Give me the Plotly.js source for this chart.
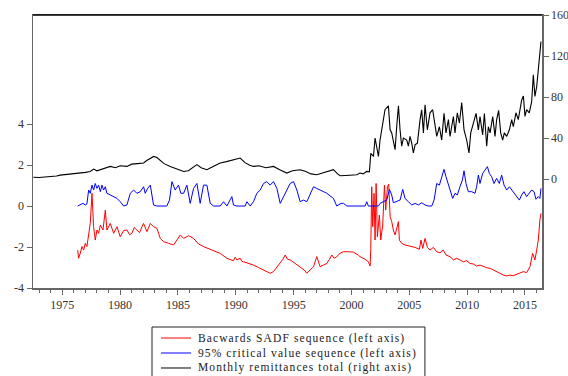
<!DOCTYPE html>
<html>
<head>
<meta charset="utf-8">
<script src="https://cdn.plot.ly/plotly-3.0.1.min.js"></script>
<style>
html,body{margin:0;padding:0;background:#fff;}
#chart{width:568px;height:376px;}
#chart .annotation-text{letter-spacing:1.1px;}
</style>
</head>
<body>
<div id="chart"></div>
<script>
// Monthly remittances total (right axis) — decimal years
const remitYear = [1972.5,1973.0,1973.5,1974.0,1974.5,1974.83,1975.5,1976.0,1976.5,1977.0,1977.42,1977.71,1978.0,1978.5,1979.0,1979.15,1979.6,1980.0,1980.59,1981.0,1981.5,1982.03,1982.3,1982.61,1982.9,1983.18,1983.5,1983.8,1984.33,1984.8,1985.0,1985.49,1985.9,1986.3,1986.64,1987.0,1987.5,1988.0,1988.65,1989.2,1989.8,1990.38,1990.8,1991.2,1991.53,1992.0,1992.6,1993.26,1993.8,1994.41,1994.9,1995.56,1996.0,1996.5,1997.0,1997.6,1998.0,1998.44,1998.8,1999.02,1999.5,2000.0,2000.46,2000.74,2001.0,2001.32,2001.55,2001.67,2001.90,2002.04,2002.18,2002.33,2002.47,2002.76,2002.90,2003.19,2003.34,2003.48,2003.62,2003.77,2003.91,2004.06,2004.20,2004.34,2004.49,2004.78,2004.92,2005.06,2005.21,2005.35,2005.50,2005.70,2005.93,2006.07,2006.22,2006.36,2006.56,2006.79,2007.02,2007.22,2007.37,2007.60,2007.80,2008.00,2008.17,2008.38,2008.52,2008.81,2008.95,2009.15,2009.33,2009.53,2009.73,2009.96,2010.16,2010.31,2010.54,2010.77,2010.97,2011.11,2011.34,2011.49,2011.69,2011.83,2011.98,2012.21,2012.41,2012.55,2012.72,2012.90,2013.07,2013.21,2013.42,2013.65,2013.85,2013.99,2014.22,2014.42,2014.71,2014.86,2015.00,2015.14,2015.37,2015.58,2015.72,2015.86,2016.01,2016.15,2016.29,2016.38];
const remitVal  = [1.8,1.5,2.0,2.2,3.0,3.8,4.5,5.0,5.5,6.5,7.4,9.7,8.0,10.0,11.5,12.3,11.0,13.0,12.3,14.5,15.0,15.6,18.0,20.5,22.0,21.0,18.0,15.0,12.3,10.0,9.0,7.4,8.0,11.0,14.0,11.0,9.1,12.0,15.6,17.0,19.0,20.5,16.0,13.5,12.3,13.0,11.0,12.3,9.0,5.8,8.0,9.1,7.5,5.0,4.2,6.0,7.4,9.1,5.0,3.2,3.5,4.0,4.2,5.8,5.0,7.4,7.0,25.0,22.0,40.0,32.0,22.0,38.0,58.0,67.6,71.5,48.0,45.0,35.0,28.6,51.0,71.5,48.0,32.0,40.0,38.0,32.0,41.6,35.0,25.4,33.5,35.0,58.0,67.6,45.0,72.5,48.0,64.6,67.6,51.0,41.6,51.0,38.0,64.0,45.0,58.0,41.6,61.0,45.0,64.6,54.6,74.7,48.0,38.0,25.4,45.0,54.6,64.0,48.0,61.0,43.0,64.0,32.0,51.0,45.0,61.0,41.6,58.0,67.0,45.0,38.0,45.0,41.6,48.0,58.0,51.0,64.6,58.0,77.0,81.0,61.0,67.6,64.6,75.7,101.7,80.6,90.0,106.6,129.0,134.0];

// 95% critical value sequence (left axis)
const cvYear = [1976.33,1976.56,1976.79,1976.99,1977.13,1977.28,1977.42,1977.57,1977.71,1977.85,1978.0,1978.14,1978.29,1978.43,1978.57,1978.72,1978.86,1979.15,1979.44,1979.73,1980.01,1980.3,1980.59,1980.88,1981.17,1981.45,1981.74,1982.03,1982.17,1982.38,1982.61,1982.89,1983.18,1984.04,1984.27,1984.48,1984.76,1985.05,1985.25,1985.49,1985.77,1986.06,1986.35,1986.64,1986.92,1987.21,1987.5,1987.79,1988.08,1988.65,1988.94,1989.23,1989.66,1989.8,1990.09,1990.81,1990.96,1991.24,1991.53,1991.82,1992.11,1992.4,1992.68,1992.97,1993.26,1993.55,1993.84,1994.12,1994.41,1994.7,1994.99,1995.28,1995.56,1995.85,1996.14,1996.43,1996.72,1997.0,1997.29,1997.87,1998.44,1998.73,1999.1,1999.31,1999.6,2000.75,2001.18,2001.32,2001.46,2002.33,2002.47,2002.76,2003.05,2003.28,2003.48,2003.62,2003.91,2004.2,2004.43,2004.63,2004.92,2005.21,2005.5,2005.78,2006.07,2006.36,2006.65,2006.94,2007.14,2007.37,2007.6,2007.8,2008.0,2008.17,2008.38,2008.58,2008.75,2008.95,2009.15,2009.38,2009.59,2009.73,2009.9,2010.1,2010.39,2010.68,2010.82,2010.97,2011.11,2011.34,2011.54,2011.75,2011.92,2012.12,2012.32,2012.55,2012.78,2012.98,2013.19,2013.42,2013.65,2013.85,2014.05,2014.28,2014.51,2014.71,2014.91,2015.14,2015.37,2015.58,2015.78,2015.95,2016.15,2016.29,2016.38];
const cvVal  = [0,0.05,0.13,0.05,0.1,0.78,0.62,1.02,0.78,1.1,0.86,1.02,0.7,1.02,0.78,0.94,0.62,0.54,0.46,0.37,0.21,0.0,0.05,0.62,0.78,0.62,0.7,0.94,0.62,0.86,1.02,0.05,0,0,0.29,1.19,0.78,1.02,0.62,0.62,1.02,0.13,0.86,1.1,0.13,1.02,1.02,0.13,0,0,0.21,0,0.46,0.05,0,0,0.21,0,0.21,0.62,0.78,1.1,1.19,1.02,1.19,0.86,0.13,0.46,0.78,1.1,1.19,0.78,0.21,0.29,0.21,0.62,0.94,0.86,0.78,0.62,0.37,0,0.13,0.13,0,0,0,0.21,0,0,0.13,0.21,0.29,0.81,0.54,0.16,0.21,0.29,0.81,0.37,0.21,0.05,0.13,0.05,0.16,0.05,0,0,0.29,1.1,1.02,1.43,1.79,1.43,1.02,0.62,0.37,0.62,0.54,0.94,1.27,1.72,1.1,0.7,0.7,0.62,0.94,1.51,1.1,1.59,1.76,1.92,1.59,1.43,1.1,1.35,1.1,1.51,1.02,0.78,0.94,0.78,0.62,0.46,0.29,0.54,0.7,0.46,0.62,0.78,0.7,0.33,0.46,0.37,0.86];

// Backwards SADF sequence (left axis)
const sadfYear = [1976.33,1976.41,1976.56,1976.7,1976.85,1976.99,1977.13,1977.28,1977.42,1977.57,1977.71,1977.85,1978.0,1978.14,1978.29,1978.52,1978.72,1978.86,1979.15,1979.44,1979.73,1980.01,1980.3,1980.59,1980.82,1981.02,1981.22,1981.45,1981.68,1981.89,1982.03,1982.32,1982.61,1982.89,1983.18,1983.47,1983.76,1984.19,1984.62,1984.91,1985.2,1985.49,1985.92,1986.35,1986.78,1987.21,1987.93,1988.65,1989.23,1989.8,1989.95,1990.09,1990.38,1990.52,1990.67,1991.1,1991.53,1991.96,1992.4,1992.97,1993.26,1993.55,1993.84,1994.07,1994.27,1994.47,1994.7,1995.13,1995.56,1995.91,1996.14,1996.43,1996.72,1997.0,1997.15,1997.29,1997.58,1997.87,1998.1,1998.3,1998.5,1998.73,1999.02,1999.31,1999.74,2000.17,2000.6,2000.74,2001.18,2001.46,2001.61,2001.67,2001.75,2001.84,2001.95,2002.04,2002.13,2002.24,2002.41,2002.53,2002.7,2002.85,2002.96,2003.11,2003.22,2003.34,2003.48,2003.62,2003.77,2003.91,2004.06,2004.14,2004.34,2004.63,2005.06,2005.5,2005.87,2006.01,2006.16,2006.36,2006.56,2006.79,2007.08,2007.37,2007.66,2007.94,2008.17,2008.52,2008.81,2009.1,2009.38,2009.67,2009.96,2010.25,2010.54,2010.82,2011.11,2011.4,2011.69,2011.98,2012.26,2012.55,2012.84,2013.13,2013.42,2013.7,2013.99,2014.28,2014.57,2014.86,2015.14,2015.43,2015.66,2015.86,2016.01,2016.15,2016.29,2016.38];
const sadfVal  = [-2.15,-2.55,-2.3,-1.98,-2.15,-1.82,-1.98,-1.5,-0.85,0.62,-1.01,-1.66,-1.17,-1.33,-0.93,-1.17,-0.2,-1.17,-0.85,-1.33,-1.01,-1.5,-1.2,-1.17,-1.4,-1.33,-1.05,-1.17,-1.3,-1.01,-0.85,-1.25,-0.85,-1.01,-1.09,-1.58,-1.74,-1.82,-1.9,-1.66,-1.41,-1.58,-1.45,-1.58,-1.85,-1.98,-2.15,-2.31,-2.55,-2.67,-2.5,-2.63,-2.55,-2.7,-2.72,-2.8,-2.88,-3.0,-3.12,-3.28,-3.2,-3.0,-2.8,-2.6,-2.39,-2.6,-2.63,-2.8,-2.96,-3.12,-3.28,-3.1,-2.96,-2.47,-2.7,-2.96,-2.88,-2.8,-2.6,-2.39,-2.55,-2.47,-2.3,-2.23,-2.23,-2.25,-2.4,-2.47,-2.6,-2.72,-2.93,-2.07,0.94,-1.01,0.62,-1.66,1.1,-1.5,-0.44,-1.66,-0.93,1.02,-0.2,0.94,1.06,-0.52,-0.76,-1.17,-1.41,-1.09,-0.76,-1.66,-1.82,-1.9,-1.95,-2.02,-2.11,-1.66,-2.07,-1.58,-2.02,-2.15,-2.02,-2.23,-2.28,-2.15,-2.39,-2.47,-2.63,-2.55,-2.63,-2.72,-2.67,-2.8,-2.83,-2.93,-2.88,-2.96,-3.01,-3.04,-3.12,-3.2,-3.28,-3.37,-3.41,-3.37,-3.4,-3.33,-3.28,-3.2,-3.25,-2.96,-2.31,-2.63,-2.15,-1.66,-0.68,-0.36];

const legendNames = ["Bacwards SADF sequence (left axis)", "95% critical value sequence (left axis)", "Monthly remittances total (right axis)"];
const seriesColors = ["#ff0000", "#0000ff", "#000000"];
const leftTicks = [-4, -2, 0, 2, 4];
const rightTicks = [0, 40, 80, 120, 160];

const serif = "Liberation Serif, Times New Roman, serif";
const axisGray = "#666";

const traces = [
  {x: sadfYear, y: sadfVal, name: legendNames[0], type: "scatter", mode: "lines",
   line: {color: seriesColors[0], width: 1}, yaxis: "y"},
  {x: cvYear, y: cvVal, name: legendNames[1], type: "scatter", mode: "lines",
   line: {color: seriesColors[1], width: 1}, yaxis: "y"},
  {x: remitYear, y: remitVal, name: legendNames[2], type: "scatter", mode: "lines",
   line: {color: seriesColors[2], width: 1.1}, yaxis: "y2"}
];

// Custom legend box (paper coordinates), drawn below the plot
const legBox = {x0: 0.2338, x1: 0.770, y0: -0.1429, y1: -0.34};
const legRowsY = [-0.1832, -0.2381, -0.2930];
const legLineX = [0.2515, 0.3104];
const legTextX = 0.3202;

const shapes = [
  {type: "line", xref: "paper", yref: "paper", x0: 0, x1: 1, y0: 1, y1: 1,
   line: {color: "#000", width: 1.5}},
  {type: "rect", xref: "paper", yref: "paper", x0: legBox.x0, x1: legBox.x1, y0: legBox.y0, y1: legBox.y1,
   line: {color: "#222", width: 1}, fillcolor: "rgba(0,0,0,0)"}
];
const annotations = [];
legendNames.forEach((name, i) => {
  shapes.push({type: "line", xref: "paper", yref: "paper", x0: legLineX[0], x1: legLineX[1],
               y0: legRowsY[i], y1: legRowsY[i], line: {color: seriesColors[i], width: 1}});
  annotations.push({xref: "paper", yref: "paper", x: legTextX, y: legRowsY[i], xanchor: "left", yanchor: "middle",
                    align: "left", text: name, showarrow: false,
                    font: {family: serif, size: 11.5, color: "#1a1a1a"}});
});

const layout = {
  width: 568, height: 376,
  margin: {l: 33, r: 26, t: 15, b: 88, pad: 0, autoexpand: false},
  paper_bgcolor: "#fff", plot_bgcolor: "#fff",
  font: {family: serif, size: 12, color: "#333"},
  showlegend: false,
  xaxis: {range: [1972.47, 2016.47], tick0: 1975, dtick: 5, showgrid: false, zeroline: false,
          showline: true, linecolor: axisGray, linewidth: 1.5, mirror: true,
          ticks: "outside", ticklen: 5, tickcolor: axisGray, tickwidth: 1,
          minor: {dtick: 1, tick0: 1975, ticks: "outside", ticklen: 3, tickcolor: axisGray, showgrid: false},
          tickfont: {family: serif, size: 12, color: "#333"}},
  yaxis: {range: [-4, 9.32], tickvals: leftTicks, ticktext: leftTicks.map(String),
          showgrid: false, zeroline: false, showline: true, linecolor: axisGray, linewidth: 1.5,
          ticks: "outside", ticklen: 5, tickcolor: axisGray,
          tickfont: {family: serif, size: 12, color: "#333"}},
  yaxis2: {range: [-106.3, 160], tickvals: rightTicks, ticktext: rightTicks.map(String),
           overlaying: "y", side: "right", showgrid: false, zeroline: false,
           showline: true, linecolor: axisGray, linewidth: 1.5,
           ticks: "outside", ticklen: 5, tickcolor: axisGray,
           tickfont: {family: serif, size: 12, color: "#333"}},
  shapes: shapes,
  annotations: annotations
};

Plotly.newPlot("chart", traces, layout, {staticPlot: true, displayModeBar: false});
</script>
</body>
</html>
